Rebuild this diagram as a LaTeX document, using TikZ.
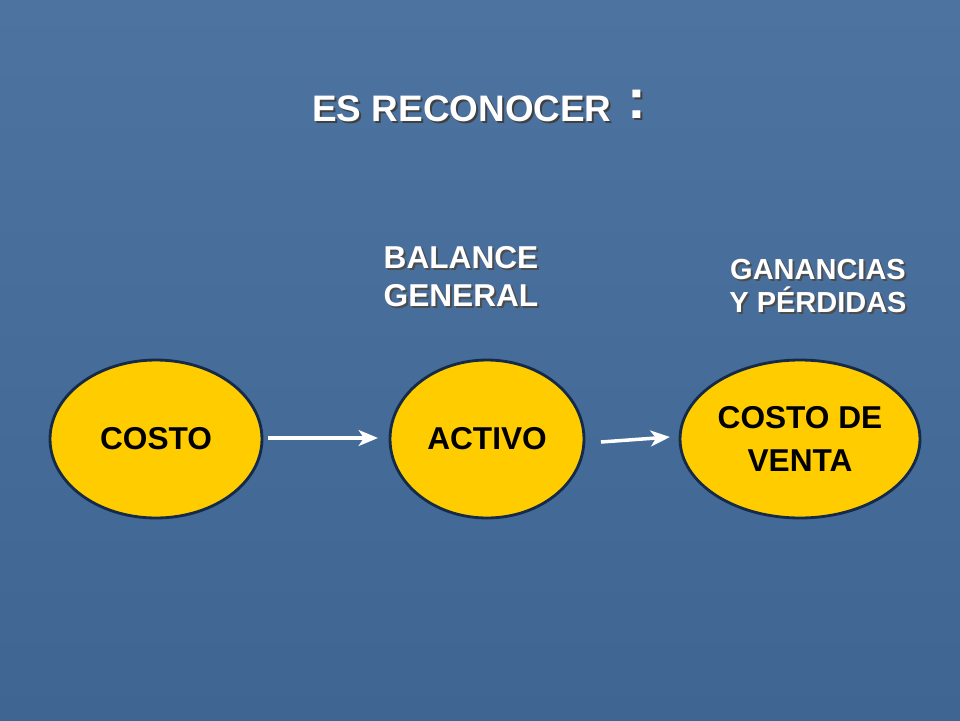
\documentclass[tikz,border=0pt]{standalone}
\usepackage{fontspec}
\setmainfont{Liberation Sans}
\usetikzlibrary{shapes.geometric,arrows.meta}
\usetikzlibrary{positioning}
\definecolor{bgtop}{HTML}{4D73A0}
\definecolor{bgbot}{HTML}{3F6592}
\definecolor{oval}{HTML}{FFCC00}
\definecolor{rim}{HTML}{142A48}
\tikzset{
  blob/.style={ellipse, draw=rim, line width=1.6pt, fill=oval, inner sep=0pt,
    font=\bfseries\fontsize{18}{18}\selectfont, align=center},
  lbl/.style={text=white, font=\bfseries\fontsize{18}{21.6}\selectfont, align=left},
  shade/.style={text=black!70, font=\bfseries\fontsize{18}{21.6}\selectfont, align=left},
  go/.style={draw=white, line width=2pt, -{Stealth[length=11pt,width=9pt,inset=3pt]}}
}
\begin{document}
\begin{tikzpicture}[x=0.02cm, y=-0.02cm]
		\useasboundingbox (0,0) rectangle (960,720);
		\shade[top color=bgtop, bottom color=bgbot] (0,0) rectangle (960,720);
		% title
		\node[text=black!75, font=\bfseries\fontsize{21}{24}\selectfont] at (464,111) {ES RECONOCER};
		\node[text=white, font=\bfseries\fontsize{21}{24}\selectfont] (title) at (462,109) {ES RECONOCER};
		\node[text=black!75, font=\bfseries\fontsize{32}{34}\selectfont] at (639,106) {:};
		\node[text=white, font=\bfseries\fontsize{32}{34}\selectfont] (colon) at (637,104) {:};
		% headings
		\node[shade] at (463,279) {BALANCE\\GENERAL};
		\node[lbl] (bal) at (461,277) {BALANCE\\GENERAL};
		\node[shade, font=\bfseries\fontsize{16.5}{19}\selectfont, align=center] at (820,288) {GANANCIAS\\ Y PÉRDIDAS};
		\node[lbl, font=\bfseries\fontsize{16.5}{19}\selectfont, align=center] (gyp) at (818,286) {GANANCIAS\\ Y PÉRDIDAS};
		% ovals
		\node[blob, minimum width=4.24cm, minimum height=3.16cm] (costo) at (156,439) {COSTO};
		\node[blob, minimum width=3.88cm, minimum height=3.16cm] (activo) at (487,439) {ACTIVO};
		\node[blob, minimum width=4.8cm, minimum height=3.16cm, font=\bfseries\fontsize{18}{24}\selectfont] (venta) at (800,439) {COSTO DE\\VENTA};
		% arrows
		\coordinate (a1) at (268,438);
		\coordinate (a2) at (378,438);
		\coordinate (b1) at (601,442);
		\coordinate (b2) at (670,437);
		\draw[go] (a1) -- (a2);
		\draw[go] (b1) -- (b2);
		\end{tikzpicture}
\end{document}
